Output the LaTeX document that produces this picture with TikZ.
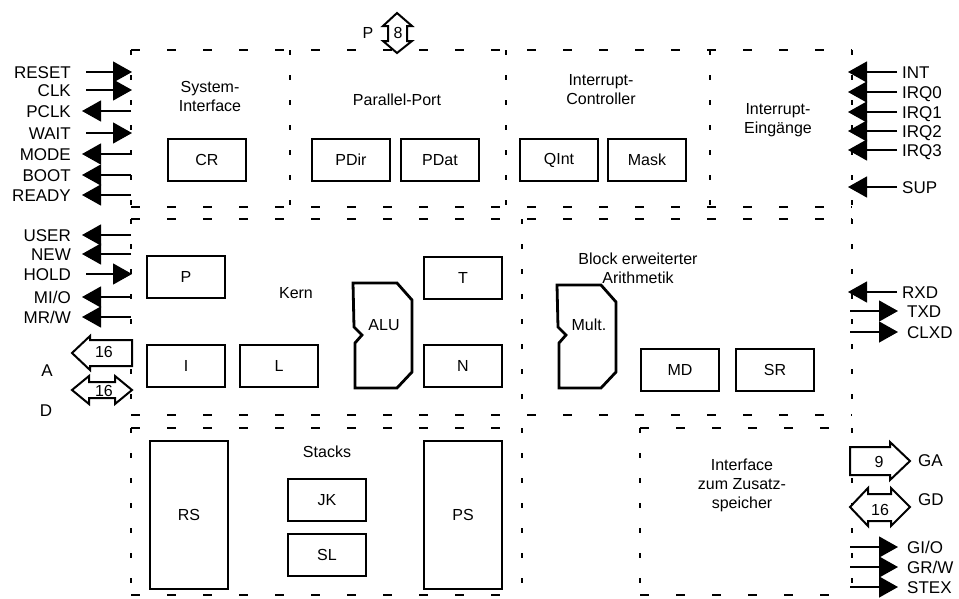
\documentclass[tikz,border=0pt]{standalone}
\usepackage{fontspec}
\setmainfont{Liberation Sans}
\usetikzlibrary{arrows.meta,calc}
\newcommand\sigLin[3]{\node[sig,anchor=east] (#1) at (71,#3) {#2}; \coordinate (#1b) at (132,#3); \draw[tip] ([xshift=15pt]#1.east) -- (#1b);}
\newcommand\sigLout[3]{\node[sig,anchor=east] (#1) at (71,#3) {#2}; \coordinate (#1b) at (131,#3); \draw[tip] (#1b) -- ([xshift=11pt]#1.east);}
\newcommand\sigRin[3]{\node[sig,anchor=west] (#1) at (902,#3) {#2}; \coordinate (#1b) at (848,#3); \draw[tip] ([xshift=-5pt]#1.west) -- (#1b);}
\newcommand\sigRout[3]{\node[sig,anchor=west] (#1) at (907,#3) {#2}; \coordinate (#1b) at (850,#3); \draw[tip] (#1b) -- ([xshift=-9pt]#1.west);}
\begin{document}
\begin{tikzpicture}[x=1pt,y=-1pt,
  regh/.style={line width=1.2pt, dash pattern=on 9pt off 27pt},
  regv/.style={line width=1.2pt, dash pattern=on 5pt off 20pt},
  box/.style={draw, line width=2.8pt, minimum width=78pt, minimum height=42pt, inner sep=0pt, font=\fontsize{16}{18}\selectfont},
  lbl/.style={font=\fontsize{16}{19}\selectfont, align=center, inner sep=0pt},
  sig/.style={font=\fontsize{17}{19}\selectfont, inner sep=0pt, text height=12pt, text depth=0pt},
  tip/.style={-{Triangle[length=19pt,width=21pt]}, line width=1.3pt},
  bus/.style={draw, line width=2pt, fill=white, line join=miter},
  alu/.style={draw, line width=2.8pt, line join=miter},
]
\useasboundingbox (0,0) rectangle (959,598);

% ---- region borders ----
\draw[regh] (131,50) -- (852,50);
\draw[regh] (131,207) -- (852,207);
\draw[regh] (131,219) -- (852,219);
\draw[regh] (131,415) -- (852,415);
\draw[regh] (131,428) -- (522,428);
\draw[regh] (131,595) -- (522,595);
\draw[regh] (640,428) -- (852,428);
\draw[regh] (640,595) -- (852,595);
\foreach \x in {131,290,506,710,852} \draw[regv] (\x,50) -- (\x,207);
\foreach \x in {131,522,852} \draw[regv] (\x,219) -- (\x,415);
\foreach \x in {131,522,640,852} \draw[regv] (\x,428) -- (\x,595);

% ---- region titles ----
\node[lbl] (tSys) at (210,96) {System-\\Interface};
\node[lbl] (tPar) at (397,100) {Parallel-Port};
\node[lbl] (tIC) at (601,90) {Interrupt-\\Controller};
\node[lbl] (tIE) at (778,120) {Interrupt-\\Eingänge};
\node[lbl] (tKern) at (296,293) {Kern};
\node[lbl] (tArith) at (638,268) {Block erweiterter\\Arithmetik};
\node[lbl] (tStacks) at (327,452) {Stacks};
\node[lbl] (tIZ) at (742,485) {Interface\\zum Zusatz-\\speicher};

% ---- boxes ----
\node[box] (CR) at (207,160) {CR};
\node[box] (PDir) at (351,160) {PDir};
\node[box] (PDat) at (440,160) {PDat};
\node[box] (QInt) at (559,160) {QInt};
\node[box] (Mask) at (647,160) {Mask};
\node[box] (Preg) at (186,277) {P};
\node[box] (T) at (463,278) {T};
\node[box] (I) at (186,366) {I};
\node[box] (L) at (279,366) {L};
\node[box] (N) at (463,366) {N};
\node[box] (MD) at (680,370) {MD};
\node[box] (SR) at (775,370) {SR};
\node[box, minimum width=78pt, minimum height=148pt] (RS) at (189,515) {RS};
\node[box] (JK) at (327,500) {JK};
\node[box] (SL) at (327,555) {SL};
\node[box, minimum width=78pt, minimum height=148pt] (PS) at (463,515) {PS};

% ---- ALU / Mult ----
\draw[alu] (353,283) -- (397,283) -- (412,300) -- (412,372) -- (397,388) -- (355,388)
  -- (355,343) -- (362,335) -- (354,327) -- cycle;
\node[lbl] (ALU) at (384,325) {ALU};
\draw[alu] (557,285) -- (601,285) -- (616,302) -- (616,372) -- (601,388) -- (559,388)
  -- (559,343) -- (566,335) -- (558,327) -- cycle;
\node[lbl] (Mult) at (589,325) {Mult.};

% ---- left signals ----
\sigLin{reset}{RESET}{72}
\sigLin{clk}{CLK}{90}
\sigLout{pclk}{PCLK}{111}
\sigLin{wait}{WAIT}{133}
\sigLout{mode}{MODE}{154}
\sigLout{boot}{BOOT}{175}
\sigLout{ready}{READY}{195}
\sigLout{user}{USER}{235}
\sigLout{new}{NEW}{254}
\sigLin{hold}{HOLD}{274}
\sigLout{mio}{MI/O}{297}
\sigLout{mrw}{MR/W}{317}

% ---- right signals ----
\sigRin{int}{INT}{72}
\sigRin{irqa}{IRQ0}{92}
\sigRin{irqb}{IRQ1}{112}
\sigRin{irqc}{IRQ2}{131}
\sigRin{irqd}{IRQ3}{150}
\sigRin{sup}{SUP}{187}
\sigRin{rxd}{RXD}{292}
\sigRout{txd}{TXD}{311}
\sigRout{clxd}{CLXD}{332}
\sigRout{gio}{GI/O}{547}
\sigRout{grw}{GR/W}{567}
\sigRout{stex}{STEX}{587}

% ---- bus arrows ----
\draw[bus] (132,340) -- (90,340) -- (90,336) -- (72,353) -- (90,370) -- (90,366) -- (132,366) -- cycle;
\node[lbl] (Abus) at (104,352) {16};
\node[sig] (Alab) at (47,370) {A};
\draw[bus] (72,390) -- (89,376) -- (89,382) -- (115,382) -- (115,376) -- (132,390) -- (115,404) -- (115,398) -- (89,398) -- (89,404) -- cycle;
\node[lbl] (Dbus) at (104,391) {16};
\node[sig] (Dlab) at (46,410) {D};

\draw[bus] (850,447) -- (890,447) -- (890,442) -- (910,461) -- (890,480) -- (890,475) -- (850,475) -- cycle;
\node[lbl] (GAbus) at (879,462) {9};
\node[sig,anchor=west] (GAlab) at (918,460) {GA};
\draw[bus] (850,507) -- (868,488) -- (868,494) -- (891,494) -- (891,488) -- (910,507) -- (891,526) -- (891,521) -- (868,521) -- (868,526) -- cycle;
\node[lbl] (GDbus) at (880,510) {16};
\node[sig,anchor=west] (GDlab) at (918,499) {GD};

\draw[bus] (397,13) -- (412,26) -- (407,26) -- (407,41) -- (412,41) -- (397,53) -- (383,41) -- (388,41) -- (388,26) -- (383,26) -- cycle;
\node[lbl] (Pbus) at (398,33) {8};
\node[lbl] (Plab) at (368,33) {P};
\end{tikzpicture}
\end{document}
